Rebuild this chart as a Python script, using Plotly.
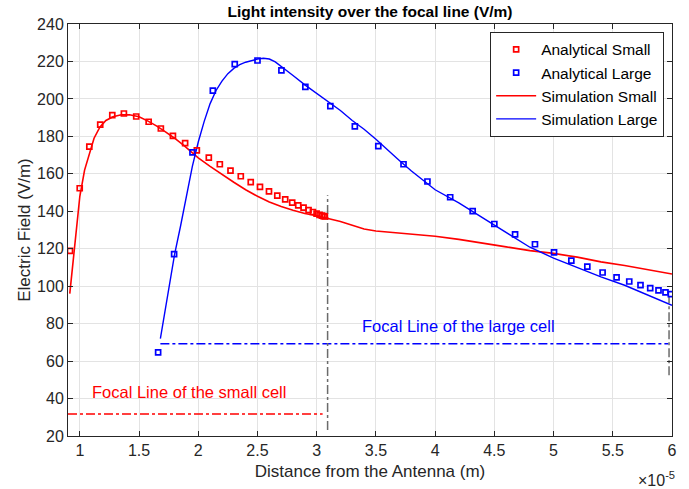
import plotly.graph_objects as go

# x values in units of 1e-5 m
an_small_x = [0.917, 0.999, 1.080, 1.172, 1.274, 1.372, 1.476, 1.581, 1.684, 1.786, 1.889, 1.988,
              2.089, 2.182, 2.272, 2.359, 2.443, 2.521, 2.597, 2.667, 2.734, 2.793, 2.844, 2.889,
              2.931, 2.968, 2.999, 3.024, 3.044, 3.058, 3.069]
an_small_y = [118.9, 152.3, 174.5, 186.3, 191.3, 192.2, 190.6, 187.8, 184.2, 180.3, 176.4, 172.5,
              168.6, 165.1, 161.7, 158.7, 155.6, 153.0, 150.6, 148.4, 146.3, 144.6, 143.2, 141.9,
              140.6, 139.6, 138.7, 138.1, 137.7, 137.4, 137.2]

an_large_x = [1.661, 1.796, 1.951, 2.123, 2.308, 2.500, 2.702, 2.904, 3.115, 3.322, 3.520, 3.733,
              3.935, 4.127, 4.317, 4.500, 4.675, 4.843, 5.004, 5.150, 5.285, 5.414, 5.532, 5.639,
              5.734, 5.816, 5.886, 5.945, 5.990]
an_large_y = [64.7, 117.1, 171.4, 204.4, 218.6, 220.5, 215.2, 206.4, 196.1, 185.3, 174.8, 165.1,
              155.9, 147.5, 140.1, 133.2, 127.7, 122.4, 118.0, 113.7, 110.4, 107.3, 104.7, 102.5,
              100.6, 99.0, 97.8, 96.7, 95.8]

sim_small_x = [0.915, 0.95, 1.0, 1.04, 1.08, 1.12, 1.17, 1.22, 1.28, 1.35, 1.42, 1.5, 1.58, 1.65,
               1.72, 1.8, 1.88, 1.95, 2.0, 2.1, 2.2, 2.3, 2.4, 2.5, 2.6, 2.7, 2.8, 2.9, 3.0, 3.1,
               3.2, 3.3, 3.4, 3.5, 3.6, 3.7, 3.8, 3.9, 4.0, 4.2, 4.4, 4.6, 4.8, 5.0, 5.2, 5.4,
               5.6, 5.8, 6.0]
sim_small_y = [96, 118, 148, 162, 171, 179, 185, 188.5, 190.5, 191.5, 191.5, 190.5, 188, 185.5,
               182.5, 179, 175, 171, 168.5, 164, 159.5, 155.5, 151.5, 148, 145, 142.5, 140.5,
               138.8, 137.6, 136.2, 134.5, 132.5, 130.5, 129.5, 129, 128.4, 127.8, 127.3, 126.7,
               125, 122.8, 121, 119, 117.5, 115.5, 113, 111, 108.8, 106.5]

sim_large_x = [1.68, 1.75, 1.8, 1.85, 1.9, 1.95, 2.0, 2.05, 2.1, 2.15, 2.2, 2.25, 2.3, 2.35, 2.4,
               2.45, 2.5, 2.55, 2.6, 2.65, 2.7, 2.8, 2.9, 3.0, 3.1, 3.2, 3.3, 3.4, 3.5, 3.6, 3.7,
               3.8, 3.9, 4.0, 4.2, 4.4, 4.6, 4.8, 5.0, 5.2, 5.4, 5.6, 5.8, 6.0]
sim_large_y = [72, 98, 117, 132, 148, 164, 177, 188, 197.5, 204.5, 209.5, 213.5, 216.3, 218.3,
               219.6, 220.6, 221.3, 221.7, 221.3, 219.8, 217.5, 212.5, 207.5, 203, 198.5, 193.8,
               188.5, 183.8, 178.5, 172.5, 167, 161.5, 156.5, 151.5, 144.5, 136.5, 128.5, 120.8,
               115, 110, 105, 100.5, 95, 89.8]

small_focal_x = [0.9, 3.05]
small_focal_y = [31.7, 31.7]
large_focal_x = [1.68, 5.97]
large_focal_y = [69.2, 69.2]
small_marker_x = [3.092, 3.092]
small_marker_y = [23.2, 148.6]
large_marker_x = [5.975, 5.975]
large_marker_y = [52.4, 94.4]

x_ticks = [1, 1.5, 2, 2.5, 3, 3.5, 4, 4.5, 5, 5.5, 6]
x_tick_text = ["1", "1.5", "2", "2.5", "3", "3.5", "4", "4.5", "5", "5.5", "6"]
y_ticks = list(range(20, 241, 20))

FONT = "Liberation Sans, Arial, Helvetica, sans-serif"
RED = "#ff0000"
BLUE = "#0000ff"
GRAY = "#6b6b6b"

fig = go.Figure()

fig.add_trace(go.Scatter(x=small_focal_x, y=small_focal_y, mode="lines",
                         line=dict(color=RED, width=1.5, dash="dashdot"), showlegend=False, hoverinfo="skip"))
fig.add_trace(go.Scatter(x=large_focal_x, y=large_focal_y, mode="lines",
                         line=dict(color=BLUE, width=1.5, dash="dashdot"), showlegend=False, hoverinfo="skip"))
fig.add_trace(go.Scatter(x=small_marker_x, y=small_marker_y, mode="lines",
                         line=dict(color=GRAY, width=1.5, dash="dashdot"), showlegend=False, hoverinfo="skip"))
fig.add_trace(go.Scatter(x=large_marker_x, y=large_marker_y, mode="lines",
                         line=dict(color=GRAY, width=1.5, dash="dashdot"), showlegend=False, hoverinfo="skip"))

fig.add_trace(go.Scatter(x=sim_small_x, y=sim_small_y, mode="lines", name="Simulation Small",
                         line=dict(color=RED, width=1.6), legendrank=3))
fig.add_trace(go.Scatter(x=sim_large_x, y=sim_large_y, mode="lines", name="Simulation Large",
                         line=dict(color=BLUE, width=1.4), legendrank=4))
fig.add_trace(go.Scatter(x=an_small_x, y=an_small_y, mode="markers", name="Analytical Small",
                         marker=dict(symbol="square-open", size=5, color=RED, line=dict(width=1.7, color=RED)),
                         legendrank=1))
fig.add_trace(go.Scatter(x=an_large_x, y=an_large_y, mode="markers", name="Analytical Large",
                         marker=dict(symbol="square-open", size=5, color=BLUE, line=dict(width=1.7, color=BLUE)),
                         legendrank=2))

fig.add_annotation(x=1.92, y=43.4, text="Focal Line of the small cell", showarrow=False,
                   font=dict(family=FONT, size=16.5, color=RED), xanchor="center", yanchor="middle")
fig.add_annotation(x=4.20, y=79.0, text="Focal Line of the large cell", showarrow=False,
                   font=dict(family=FONT, size=16.5, color=BLUE), xanchor="center", yanchor="middle")
fig.add_annotation(xref="paper", yref="paper", x=0.975, y=-0.105, text="×10<sup>-5</sup>",
                   showarrow=False, font=dict(family=FONT, size=16, color="#262626"),
                   xanchor="center", yanchor="middle")

axis_common = dict(showline=True, linecolor="#262626", linewidth=1, mirror="ticks",
                   ticks="inside", ticklen=5, tickcolor="#262626",
                   showgrid=True, gridcolor="#e3e3e3", gridwidth=1, zeroline=False,
                   tickfont=dict(family=FONT, size=16, color="#262626"))

W, H = 689, 489
fig.update_layout(
    width=W, height=H,
    margin=dict(l=68, r=16, t=24, b=51),
    paper_bgcolor="white", plot_bgcolor="white",
    title=dict(text="<b>Light intensity over the focal line (V/m)</b>", x=370 / W, xanchor="center",
               y=1 - 12 / H, yanchor="middle", font=dict(family=FONT, size=15.5, color="black")),
    xaxis=dict(range=[0.9, 6], tickvals=x_ticks, ticktext=x_tick_text,
               title=dict(text="Distance from the Antenna (m)", standoff=6,
                          font=dict(family=FONT, size=17, color="#262626")),
               **axis_common),
    yaxis=dict(range=[20, 240], tickvals=y_ticks,
               title=dict(text="Electric Field (V/m)", standoff=2,
                          font=dict(family=FONT, size=17, color="#262626")),
               **axis_common),
    legend=dict(x=0.987, y=0.981, xanchor="right", yanchor="top",
                bgcolor="white", bordercolor="#262626", borderwidth=1,
                font=dict(family=FONT, size=15.5, color="black"),
                tracegroupgap=0, itemwidth=40),
    showlegend=True,
)

# remove the default 8px page margin so the figure sits at the window's top-left corner
fig.write_html("out.html", config={"displayModeBar": False},
               post_script="document.body.style.margin='0';")
